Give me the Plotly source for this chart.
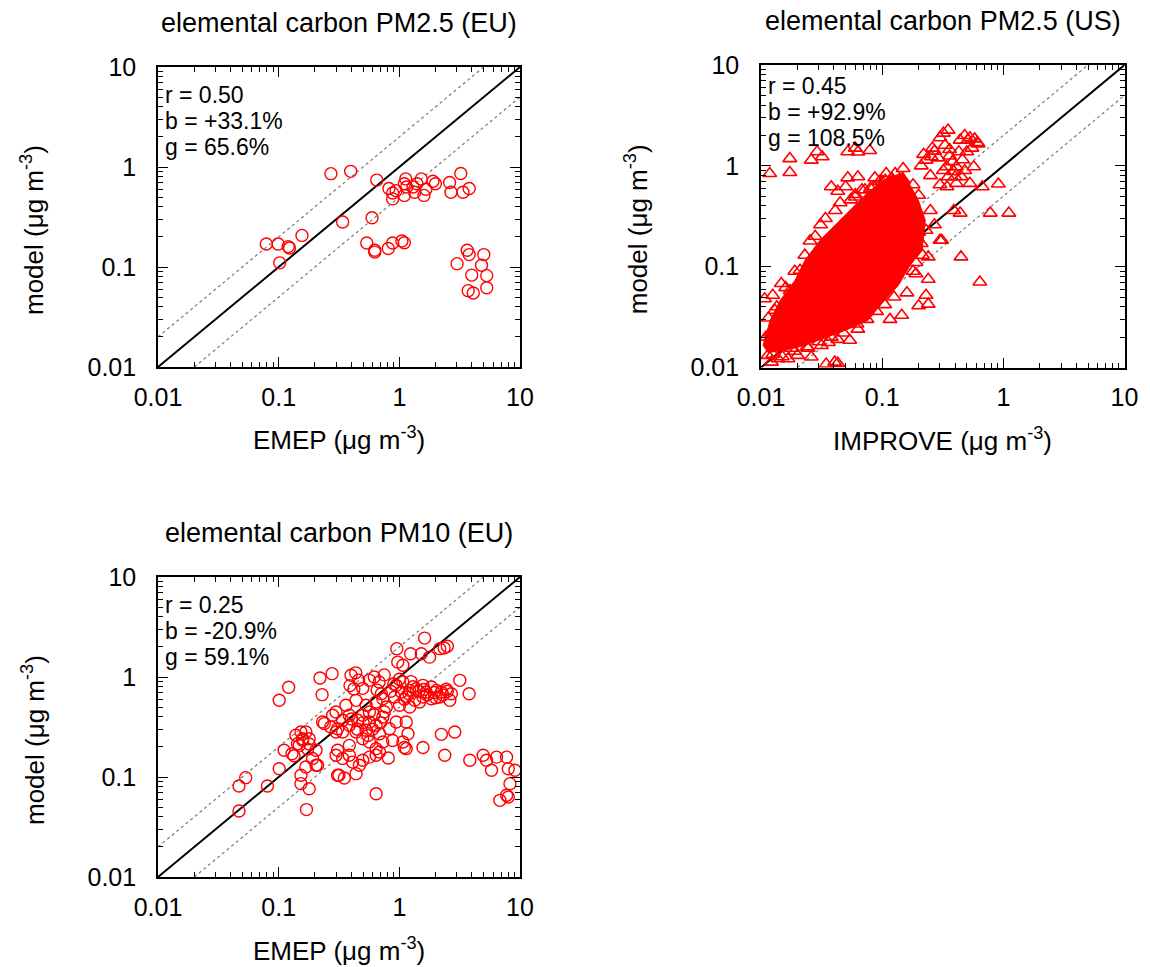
import plotly.graph_objects as go

W, H = 1150, 967
FONT = "Liberation Sans, Arial, Helvetica, sans-serif"
RED = "#ff0000"

# ---------------- data ----------------
# Panel 1: elemental carbon PM2.5 (EU), EMEP obs vs model
ec25_eu_obs = [0.271, 0.395, 0.65, 0.339, 0.594, 0.079, 0.099, 0.12, 0.123, 0.156, 0.102,
               0.537, 0.626, 0.626, 0.81, 0.88, 1.05, 1.10, 0.82, 0.88, 0.88, 0.94, 1.10,
               1.13, 1.10, 1.30, 1.34, 1.52, 1.60, 1.66, 1.90, 1.99, 2.61, 2.68, 3.23, 3.37,
               3.79, 1.40, 1.15, 3.01, 3.65, 3.79, 5.01, 4.8, 3.98, 5.3, 3.72, 4.1, 5.3]
ec25_eu_mod = [0.858, 0.905, 0.74, 0.282, 0.311, 0.170, 0.170, 0.160, 0.155, 0.207, 0.110,
               0.174, 0.147, 0.141, 0.153, 0.174, 0.182, 0.175, 0.61, 0.55, 0.48, 0.58, 0.68,
               0.76, 0.52, 0.63, 0.56, 0.76, 0.52, 0.60, 0.72, 0.68, 0.70, 0.56, 0.86, 0.56,
               0.61, 0.68, 0.63, 0.108, 0.147, 0.133, 0.133, 0.104, 0.083, 0.082, 0.058, 0.055, 0.062]

# Panel 2: elemental carbon PM2.5 (US), IMPROVE obs vs model (individual outlying points)
ec25_us_obs = [0.0118, 0.0173, 0.0173, 0.026, 0.029, 0.032, 0.052, 0.06, 0.063, 0.079,
               0.052, 0.063, 0.087, 0.108, 0.128, 0.149,
               0.038, 0.043, 0.05, 0.06, 0.068,
               0.32, 0.35, 0.44, 0.51, 0.61, 0.62, 0.43, 0.5, 0.57, 0.34, 0.41, 0.35, 0.4, 0.45,
               0.254, 0.23, 0.27, 0.21, 0.25, 0.3,
               0.343, 0.41, 0.53, 0.67, 0.91, 0.78, 1.11, 0.44, 0.39, 0.31, 0.447, 0.64,
               0.24, 0.24, 0.24, 0.2, 0.23, 0.145, 0.116, 0.063, 0.054, 0.043, 0.036, 0.0315,
               0.0406, 0.026, 0.020, 0.0167, 0.0138, 0.0114, 0.0122, 0.0178, 0.0245, 0.0147,
               0.0107, 0.0286, 0.0336, 0.0407, 0.30,
               0.021, 0.0174, 0.013, 0.0254, 0.031, 0.041, 0.055, 0.072, 0.106,
               0.23, 0.25, 0.2, 0.18, 0.27,
               0.22, 0.26, 0.29, 0.33, 0.3, 0.36, 0.36, 0.38, 0.32, 0.39, 0.48, 0.46, 0.55, 0.53,
               0.58, 0.48,
               0.18, 0.16, 0.19, 0.21,
               0.0115, 0.0125, 0.016, 0.02, 0.012, 0.015, 0.0345, 0.043,
               0.085, 0.095, 0.115, 0.13, 0.12, 0.14, 0.165, 0.175, 0.16, 0.2, 0.215, 0.19,
               0.125, 0.105, 0.09, 0.075, 0.062, 0.048, 0.038, 0.03, 0.024, 0.019, 0.015, 0.0125,
               0.011, 0.0135, 0.016, 0.019, 0.023, 0.028, 0.034, 0.045, 0.06, 0.08, 0.1, 0.15]
ec25_us_mod = [0.84, 1.18, 0.86, 1.14, 1.38, 1.23, 1.38, 1.5, 1.37, 1.42,
               0.76, 0.78, 0.76, 0.84, 0.84, 0.94,
               0.62, 0.56, 0.62, 0.49, 0.58,
               2.11, 2.26, 1.8, 1.8, 1.7, 1.65, 1.38, 1.38, 0.98, 0.98, 0.98, 0.78, 0.78, 0.78,
               1.23, 1.14, 1.4, 1.0, 0.8, 0.65,
               0.62, 0.67, 0.67, 0.62, 0.66, 0.34, 0.34, 0.34, 0.36, 0.183, 0.125, 0.0705,
               0.125, 0.075, 0.0425, 0.041, 0.052, 0.033, 0.030, 0.024, 0.0186, 0.019, 0.0177,
               0.0165, 0.0113, 0.0127, 0.0132, 0.0122, 0.0122, 0.0132, 0.0113, 0.0155, 0.0155,
               0.068, 0.048, 0.135, 0.15, 0.14, 0.183,
               0.092, 0.058, 0.037, 0.18, 0.26, 0.36, 0.46, 0.58, 0.72,
               0.23, 0.36, 0.51, 0.65, 0.26,
               1.3, 1.5, 1.2, 1.6, 1.9, 1.45, 1.25, 1.1, 0.9, 0.88, 0.9, 1.15, 1.5, 1.9,
               1.85, 2.0,
               0.09, 0.055, 0.11, 0.17,
               0.031, 0.052, 0.045, 0.065, 0.022, 0.025, 0.0108, 0.011,
               0.62, 0.7, 0.68, 0.6, 0.75, 0.5, 0.42, 0.3, 0.2, 0.22, 0.13, 0.085,
               0.05, 0.042, 0.036, 0.03, 0.027, 0.022, 0.02, 0.018, 0.016, 0.0145, 0.0128, 0.0135,
               0.02, 0.04, 0.062, 0.09, 0.13, 0.2, 0.3, 0.43, 0.52, 0.6, 0.7, 0.72]

# Panel 2: outline of the saturated (overplotted) core of the IMPROVE cloud
ec25_us_core_obs = [0.149, 0.199, 0.227, 0.214, 0.170, 0.136, 0.0963, 0.0766, 0.0494, 0.0338,
                    0.0231, 0.0158, 0.0114, 0.0104, 0.0119, 0.0144, 0.0191, 0.0231, 0.0307,
                    0.0409, 0.0544, 0.0724, 0.0963]
ec25_us_core_mod = [0.866, 0.456, 0.289, 0.146, 0.103, 0.0653, 0.0414, 0.0294, 0.0233, 0.0195,
                    0.0166, 0.0148, 0.0141, 0.0166, 0.0294, 0.0463, 0.0733, 0.116, 0.183,
                    0.258, 0.363, 0.512, 0.689]

# Panel 3: elemental carbon PM10 (EU), EMEP obs vs model
ec10_eu_obs = [1.62, 0.953, 1.24, 1.52, 2.16, 2.50, 2.35, 1.78, 0.97, 1.07,
               0.22, 0.277, 0.121, 0.101, 0.229,
               0.398, 0.435, 0.46, 0.39, 0.42, 0.497,
               0.565, 0.62, 0.68, 0.75, 0.655, 0.71,
               0.942, 1.07, 1.22, 1.38, 1.57, 1.67, 1.84, 2.03, 2.23, 2.45, 2.70, 3.17, 3.79,
               1.14, 1.34, 1.57, 1.84, 2.16, 2.62, 1.004, 1.22, 1.47, 0.912, 1.04,
               0.299, 0.361, 0.438, 0.53, 0.642, 0.73, 0.78, 0.565, 0.385, 0.28, 0.339,
               0.452, 0.497, 0.565, 0.385, 0.339, 0.438, 0.53, 0.642, 0.73, 0.686, 0.828,
               0.942, 1.14, 1.18, 1.07, 0.88, 0.73, 0.565, 0.497, 0.385, 0.308, 0.231, 0.27,
               0.168, 0.158, 0.148, 0.139, 0.179, 0.204, 0.239,
               0.299, 0.339, 0.385, 0.41, 0.497, 0.565, 0.642, 0.81, 0.642, 0.686, 1.14, 1.10,
               0.0469, 0.0469, 0.0533, 0.0807, 0.101, 0.153, 0.153, 0.179, 0.170, 0.168, 0.204,
               0.308, 0.35, 0.438, 0.467, 0.111, 0.129,
               3.84, 4.95, 5.28, 6.39, 7.74, 5.81, 8.0, 9.08, 8.26, 7.74, 6.81, 8.0,
               2.38, 2.23, 2.88, 1.57, 0.642,
               0.153, 0.158, 0.143, 0.179, 0.174, 0.191, 0.21, 0.134, 0.299, 0.308, 0.316,
               1.2, 1.45, 1.7, 1.95, 2.3, 2.5, 1.3, 1.6, 2.0, 1.1, 0.85, 0.9, 1.25, 1.0,
               0.45, 0.5, 0.6, 0.7, 0.55, 0.4, 0.62, 0.75]
ec10_eu_mod = [2.45, 1.92, 1.71, 1.71, 1.92, 2.03, 1.95, 1.58, 1.41, 1.31,
               0.977, 1.08, 0.79, 0.585, 0.666,
               1.04, 1.10, 0.93, 0.82, 0.76, 0.77,
               0.93, 1.0, 0.89, 1.05, 0.74, 0.68,
               0.825, 0.891, 0.735, 0.764, 0.825, 0.708, 0.794, 0.735, 0.708, 0.753, 0.681,
               0.926, 0.681,
               0.631, 0.584, 0.631, 0.607, 0.631, 0.584, 0.521, 0.501, 0.562, 0.631, 0.708,
               0.447, 0.521, 0.584, 0.521, 0.562, 0.607, 0.501, 0.447, 0.414, 0.414, 0.369,
               0.369, 0.414, 0.355, 0.329, 0.282, 0.282, 0.293, 0.329, 0.398, 0.271, 0.304,
               0.355, 0.355, 0.271, 0.224, 0.232, 0.224, 0.224, 0.241, 0.207, 0.304, 0.355,
               0.316, 0.282, 0.241, 0.207, 0.262, 0.214, 0.185, 0.342,
               0.165, 0.153, 0.165, 0.141, 0.147, 0.158, 0.165, 0.155, 0.192, 0.178, 0.192,
               0.197,
               0.0457, 0.0813, 0.0985, 0.0813, 0.121, 0.104, 0.0858, 0.0764, 0.0472, 0.126,
               0.131, 0.104, 0.0977, 0.108, 0.131, 0.185, 0.171,
               0.147, 0.165, 0.147, 0.158, 0.158, 0.117, 0.121, 0.117, 0.0858, 0.0656, 0.0584,
               0.063,
               0.165, 0.267, 0.282, 0.197, 0.068,
               0.282, 0.233, 0.215, 0.241, 0.190, 0.153, 0.131, 0.163, 0.282, 0.185, 0.104,
               0.68, 0.72, 0.66, 0.7, 0.66, 0.72, 0.8, 0.75, 0.62, 0.6, 0.72, 0.85, 0.9, 0.95,
               0.3, 0.35, 0.3, 0.35, 0.26, 0.38, 0.42, 0.45]

titles = ["elemental carbon PM2.5 (EU)", "elemental carbon PM2.5 (US)", "elemental carbon PM10 (EU)"]
xlabels = ["EMEP (μg m<sup>-3</sup>)", "IMPROVE (μg m<sup>-3</sup>)", "EMEP (μg m<sup>-3</sup>)"]
ylabel = "model (μg m<sup>-3</sup>)"
stats = [["r = 0.50", "b = +33.1%", "g = 65.6%"],
         ["r = 0.45", "b = +92.9%", "g = 108.5%"],
         ["r = 0.25", "b = -20.9%", "g = 59.1%"]]
tick_vals = [0.01, 0.1, 1, 10]
tick_text = ["0.01", "0.1", "1", "10"]
ratio_factors = [1.0, 2.0, 0.5]
axis_min, axis_max = 0.01, 10.0

# ---------------- layout helpers ----------------
def fx(px):
    return px / W


def fy(py):
    return 1 - py / H


# panel frames in pixels: (left, right, top, bottom)
frames = [(158, 520, 67, 367), (761, 1124.5, 65, 367.5), (158, 520, 577, 877)]

minor_vals = [m * 10 ** e for e in (-2, -1, 0) for m in range(2, 10)]


def axis_style(domain, anchor, is_x):
    return dict(
        type="log", range=[-2, 1], domain=domain, anchor=anchor, automargin=False,
        showline=True, linecolor="black", linewidth=1.6, mirror="ticks",
        ticks="inside", ticklen=10, tickwidth=1.4, tickcolor="black",
        tickmode="array", tickvals=tick_vals, ticktext=tick_text,
        minor=dict(ticks="inside", ticklen=5, tickwidth=1.2, tickcolor="black",
                   tickmode="array", tickvals=minor_vals, showgrid=False),
        showgrid=False, zeroline=False,
        tickfont=dict(family=FONT, size=25, color="black"),
        ticklabelstandoff=7 if is_x else 15,
    )


fig = go.Figure()
layout = dict(
    width=W, height=H, margin=dict(l=0, r=0, t=0, b=0, autoexpand=False),
    paper_bgcolor="white", plot_bgcolor="white", showlegend=False,
    font=dict(family=FONT, size=25, color="black"),
)
annotations = []

for i, (l, r, t, b) in enumerate(frames):
    n = "" if i == 0 else str(i + 1)
    xa, ya = "x" + n, "y" + n
    layout["xaxis" + n] = axis_style([fx(l), fx(r)], ya, True)
    layout["yaxis" + n] = axis_style([fy(b), fy(t)], xa, False)

    # 1:1 and factor-of-2 reference lines
    for f in ratio_factors:
        x0 = max(axis_min, axis_min / f)
        x1 = min(axis_max, axis_max / f)
        fig.add_trace(go.Scatter(
            x=[x0, x1], y=[x0 * f, x1 * f], mode="lines", xaxis=xa, yaxis=ya,
            line=dict(color="black" if f == 1.0 else "#7a7a7a",
                      width=2.0 if f == 1.0 else 1.2,
                      dash="solid" if f == 1.0 else "dot"),
            hoverinfo="skip"))

    cx = (l + r) / 2
    annotations.append(dict(text=titles[i], x=fx(cx), y=fy(t - 44), xref="paper", yref="paper",
                            showarrow=False, xanchor="center", yanchor="middle",
                            font=dict(family=FONT, size=27, color="black")))
    annotations.append(dict(text=xlabels[i], x=fx(cx), y=fy(b + 72), xref="paper", yref="paper",
                            showarrow=False, xanchor="center", yanchor="middle",
                            font=dict(family=FONT, size=26, color="black")))
    annotations.append(dict(text=ylabel, x=fx(l - 125), y=fy((t + b) / 2 + 13), xref="paper",
                            yref="paper", showarrow=False, xanchor="center", yanchor="middle",
                            textangle=-90, font=dict(family=FONT, size=26, color="black")))
    top_off = 21 if i == 1 else 28
    for k, s in enumerate(stats[i]):
        annotations.append(dict(text=s, x=fx(l + 5), y=fy(t + top_off + 25.8 * k), xref="paper",
                                yref="paper", showarrow=False, xanchor="left", yanchor="middle",
                                font=dict(family=FONT, size=23, color="black")))

# panel 1 points
fig.add_trace(go.Scatter(x=ec25_eu_obs, y=ec25_eu_mod, mode="markers", xaxis="x", yaxis="y",
                         marker=dict(symbol="circle-open", size=12, color=RED,
                                     line=dict(width=1.4, color=RED))))
# panel 2: saturated core + individual triangles
fig.add_trace(go.Scatter(x=ec25_us_core_obs + ec25_us_core_obs[:1],
                         y=ec25_us_core_mod + ec25_us_core_mod[:1],
                         mode="lines", fill="toself", fillcolor=RED, xaxis="x2", yaxis="y2",
                         line=dict(color=RED, width=1), hoverinfo="skip"))
fig.add_trace(go.Scatter(x=ec25_us_obs, y=ec25_us_mod, mode="markers", xaxis="x2", yaxis="y2",
                         marker=dict(symbol="triangle-up-open", size=12, color=RED,
                                     line=dict(width=1.6, color=RED))))
# panel 3 points
fig.add_trace(go.Scatter(x=ec10_eu_obs, y=ec10_eu_mod, mode="markers", xaxis="x3", yaxis="y3",
                         marker=dict(symbol="circle-open", size=12, color=RED,
                                     line=dict(width=1.4, color=RED))))

layout["annotations"] = annotations
fig.update_layout(**layout)
fig.write_html("out.html")
